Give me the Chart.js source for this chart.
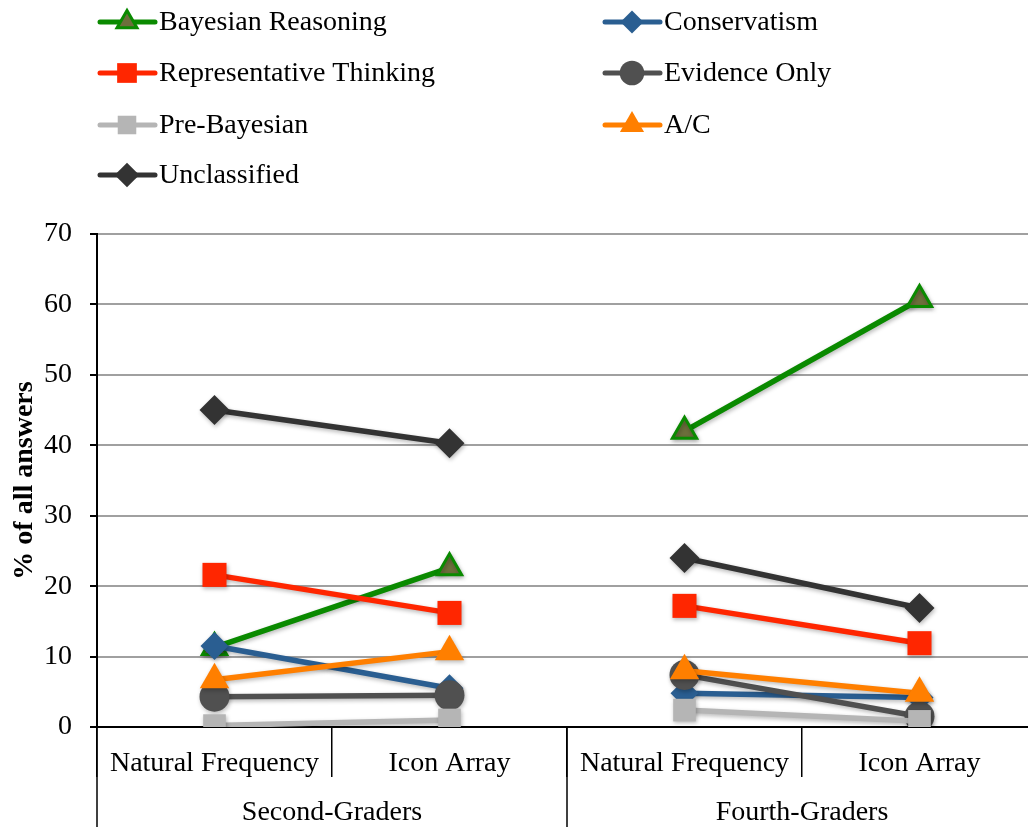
<!DOCTYPE html>
<html>
<head>
<meta charset="utf-8">
<script src="https://cdn.jsdelivr.net/npm/chart.js@4.4.0/dist/chart.umd.min.js"></script>
<style>
  html, body { margin: 0; padding: 0; background: #fff; overflow: hidden; }
  #wrap { width: 1040px; height: 827px; }
</style>
</head>
<body>
<div id="wrap"><canvas id="answers"></canvas></div>
<script>
// answer categories per condition, % of all answers
const conditions = ['Natural Frequency', 'Icon Array', 'Natural Frequency', 'Icon Array'];
const grades = ['Second-Graders', 'Fourth-Graders'];
const yTicks = [0, 10, 20, 30, 40, 50, 60, 70];

const bayesian       = [11.3, 22.6, 42.0, 60.7];
const conservatism   = [11.5, 5.5, 4.8, 4.2];
const representative = [21.6, 16.2, 17.2, 11.9];
const evidenceOnly   = [4.3, 4.5, 7.4, 1.5];
const preBayesian    = [0.2, 1.0, 2.4, 0.8];
const ac             = [6.7, 10.7, 8.0, 4.8];
const unclassified   = [45.0, 40.3, 24.0, 16.9];

const serif = '"Liberation Serif", "DejaVu Serif", serif';
const fontSize = 28;

const series = [
  { label: 'Bayesian Reasoning', data: bayesian, color: '#0a8a00', fill: '#6d6f3c', style: 'triangle', r: 14, bw: 3 },
  { label: 'Conservatism', data: conservatism, color: '#2a5e91', fill: '#2a5e91', style: 'rectRot', r: 14, bw: 0 },
  { label: 'Representative Thinking', data: representative, color: '#ff2600', fill: '#ff2600', style: 'rect', r: 17, bw: 0 },
  { label: 'Evidence Only', data: evidenceOnly, color: '#505050', fill: '#505050', style: 'circle', r: 15, bw: 0 },
  { label: 'Pre-Bayesian', data: preBayesian, color: '#b5b5b5', fill: '#b5b5b5', style: 'rect', r: 16, bw: 0 },
  { label: 'A/C', data: ac, color: '#ff7f00', fill: '#ff7f00', style: 'triangle', r: 17, bw: 0 },
  { label: 'Unclassified', data: unclassified, color: '#333333', fill: '#333333', style: 'rectRot', r: 15, bw: 0 }
];

// no line between the two grade groups
const hideGap = ctx => ctx.p0DataIndex === 1 ? 'rgba(0,0,0,0)' : undefined;

const datasets = series.map((s, i) => ({
  label: s.label,
  data: s.data,
  borderColor: s.color,
  borderWidth: 5.5,
  pointStyle: s.style,
  pointRadius: s.r,
  pointBackgroundColor: s.fill,
  pointBorderColor: s.color,
  pointBorderWidth: s.bw,
  tension: 0,
  order: series.length - i,
  segment: { borderColor: hideGap }
}));

// legend in two columns, line through the marker
const legendPlugin = {
  id: 'twoColLegend',
  afterDraw(chart) {
    const ctx = chart.ctx;
    const cols = [100, 605];
    const rows = [22, 73, 125, 175];
    ctx.save();
    series.forEach((s, i) => {
      const x = cols[i % 2], y = rows[Math.floor(i / 2)];
      ctx.strokeStyle = s.color;
      ctx.lineWidth = 5;
      ctx.lineCap = 'round';
      ctx.beginPath();
      ctx.moveTo(x, y);
      ctx.lineTo(x + 55, y);
      ctx.stroke();
      ctx.fillStyle = s.fill;
      ctx.strokeStyle = s.color;
      ctx.lineWidth = s.bw;
      Chart.helpers.drawPoint(ctx, { pointStyle: s.style, radius: s.r * 0.82, rotation: 0, borderWidth: s.bw }, x + 27, y);
      ctx.fillStyle = '#000';
      ctx.font = fontSize + 'px ' + serif;
      ctx.textBaseline = 'middle';
      ctx.textAlign = 'left';
      ctx.fillText(s.label, x + 59, y + 1);
    });
    ctx.restore();
  }
};

// second row of the category axis: grade groups
const groupPlugin = {
  id: 'gradeGroups',
  afterDraw(chart) {
    const ctx = chart.ctx;
    const xs = chart.scales.x;
    const bottom = chart.chartArea.bottom;
    const mid = (xs.getPixelForValue(1) + xs.getPixelForValue(2)) / 2;
    const edges = [xs.left, mid, xs.right];
    ctx.save();
    ctx.strokeStyle = '#000';
    ctx.lineWidth = 1.5;
    edges.forEach(ex => {
      ctx.beginPath();
      ctx.moveTo(ex, bottom);
      ctx.lineTo(ex, chart.height);
      ctx.stroke();
    });
    ctx.fillStyle = '#000';
    ctx.font = fontSize + 'px ' + serif;
    ctx.textAlign = 'center';
    ctx.textBaseline = 'middle';
    grades.forEach((g, i) => {
      ctx.fillText(g, (edges[i] + edges[i + 1]) / 2, bottom + 86);
    });
    ctx.restore();
  }
};

// soft drop shadow under the series
const shadowPlugin = {
  id: 'markerShadow',
  beforeDatasetsDraw(chart) {
    const ctx = chart.ctx;
    ctx.save();
    ctx.shadowColor = 'rgba(0,0,0,0.28)';
    ctx.shadowBlur = 4;
    ctx.shadowOffsetX = 1;
    ctx.shadowOffsetY = 2;
  },
  afterDatasetsDraw(chart) {
    chart.ctx.restore();
  }
};

new Chart(document.getElementById('answers'), {
  type: 'line',
  data: { labels: conditions, datasets: datasets },
  plugins: [shadowPlugin, legendPlugin, groupPlugin],
  options: {
    responsive: true,
    maintainAspectRatio: false,
    animation: false,
    // the plot runs a little past the visible right edge
    layout: { autoPadding: false, padding: { top: 234, left: 8, right: 3, bottom: 0 } },
    plugins: { legend: { display: false }, tooltip: { enabled: false } },
    scales: {
      x: {
        type: 'category',
        offset: true,
        grid: { display: true, drawOnChartArea: false, offset: true, tickLength: 50, color: '#000', lineWidth: 1.5 },
        border: { display: true, color: '#000', width: 2 },
        ticks: { color: '#000', padding: -30, maxRotation: 0, autoSkip: false, font: { family: serif, size: fontSize } },
        afterFit(scale) { scale.height = 100; }
      },
      y: {
        min: 0,
        max: 70,
        afterBuildTicks(scale) { scale.ticks = yTicks.map(v => ({ value: v })); },
        grid: { color: '#a0a0a0', lineWidth: 2, tickLength: 7, tickColor: '#000' },
        border: { display: true, color: '#000', width: 2 },
        ticks: { color: '#000', padding: 18, font: { family: serif, size: fontSize } },
        title: { display: true, text: '% of all answers', color: '#000', padding: 0, font: { family: serif, size: fontSize, weight: 'bold' } },
        afterFit(scale) { scale.width = 89; }
      }
    }
  }
});
</script>
</body>
</html>
